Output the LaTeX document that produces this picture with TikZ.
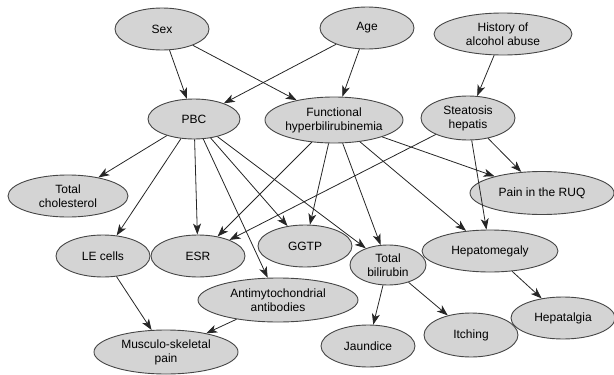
\documentclass[tikz,border=0pt]{standalone}
\usepackage{fontspec}
\setmainfont{Liberation Sans}
\usetikzlibrary{shapes.geometric,arrows.meta}
\definecolor{nodefill}{RGB}{212,212,212}
\definecolor{nodeline}{RGB}{70,70,70}
\begin{document}
\begin{tikzpicture}[x=1pt,y=-1pt,
  nd/.style={ellipse,draw=nodeline,fill=nodefill,line width=0.9pt,inner sep=0pt,
    align=center,font=\fontsize{12}{14}\selectfont},
  edge/.style={draw=black!85,line width=0.8pt,-{Stealth[length=11pt,width=8pt,inset=3pt]}}]
\useasboundingbox (0,0) rectangle (614,375);
\node[nd,minimum width=94,minimum height=42] (sex) at (162,29) {Sex};
\node[nd,minimum width=94,minimum height=42] (age) at (367,28) {Age};
\node[nd,minimum width=138,minimum height=42] (hist) at (503,34) {History of\\alcohol abuse};
\node[nd,minimum width=92,minimum height=40] (pbc) at (194,119) {PBC};
\node[nd,minimum width=138,minimum height=46] (fh) at (334,120) {Functional\\hyperbilirubinemia};
\node[nd,minimum width=94,minimum height=44] (st) at (468,118) {Steatosis\\hepatis};
\node[nd,minimum width=120,minimum height=42] (tc) at (68,196) {Total\\cholesterol};
\node[nd,minimum width=144,minimum height=43] (ruq) at (542,193) {Pain in the RUQ};
\node[nd,minimum width=94,minimum height=42] (le) at (103,256) {LE cells};
\node[nd,minimum width=94,minimum height=42] (esr) at (198,256) {ESR};
\node[nd,minimum width=94,minimum height=42] (ggtp) at (305,246) {GGTP};
\node[nd,minimum width=76,minimum height=40] (tb) at (388,265) {Total\\bilirubin};
\node[nd,minimum width=136,minimum height=42] (hm) at (490,251) {Hepatomegaly};
\node[nd,minimum width=160,minimum height=44] (ama) at (278,300) {Antimytochondrial\\antibodies};
\node[nd,minimum width=144,minimum height=44] (msp) at (166,352) {Musculo-skeletal\\pain};
\node[nd,minimum width=94,minimum height=42] (jau) at (368,346) {Jaundice};
\node[nd,minimum width=94,minimum height=44] (itc) at (471,335) {Itching};
\node[nd,minimum width=104,minimum height=42] (hpa) at (563,318) {Hepatalgia};
\path[edge] (sex) -- (pbc);
\path[edge] (sex) -- (fh);
\path[edge] (age) -- (pbc);
\path[edge] (age) -- (fh);
\path[edge] (hist) -- (st);
\path[edge] (pbc) -- (tc);
\path[edge] (pbc) -- (le);
\path[edge] (pbc) -- (esr);
\path[edge] (pbc) -- (ama);
\path[edge] (pbc) -- (ggtp);
\path[edge] (pbc) -- (tb);
\path[edge] (fh) -- (esr);
\path[edge] (fh) -- (ggtp);
\path[edge] (fh) -- (tb);
\path[edge] (fh) -- (hm);
\path[edge] (fh) -- (ruq);
\path[edge] (st) -- (esr);
\path[edge] (st) -- (ruq);
\path[edge] (st) -- (hm);
\path[edge] (le) -- (msp);
\path[edge] (ama) -- (msp);
\path[edge] (tb) -- (jau);
\path[edge] (tb) -- (itc);
\path[edge] (hm) -- (hpa);
\end{tikzpicture}
\end{document}
